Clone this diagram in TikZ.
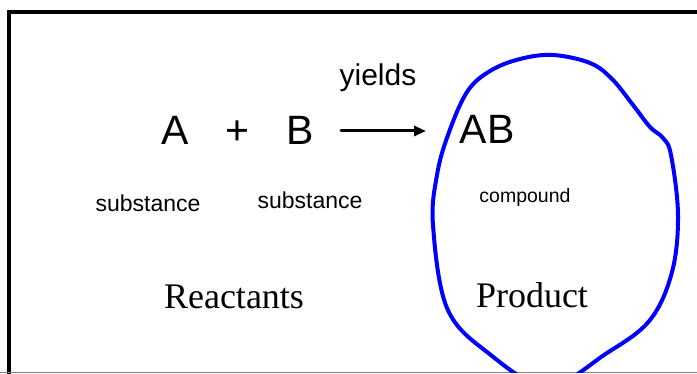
\documentclass[tikz,border=0pt]{standalone}
\usepackage{fontspec}
\setmainfont{Liberation Serif}
\newfontfamily\arialf{Liberation Sans}
\usetikzlibrary{arrows.meta}
\tikzset{
  big/.style={font=\arialf\fontsize{41}{41}\selectfont, inner sep=0pt, anchor=base},
  small/.style={font=\arialf\fontsize{23}{23}\selectfont, inner sep=0pt, anchor=base},
  label serif/.style={font=\fontsize{36}{36}\selectfont, inner sep=0pt, anchor=base},
  frameline/.style={line width=4pt, black},
  bluering/.style={line width=4pt, color={rgb,255:red,0;green,0;blue,255}},
}
\begin{document}
\begin{tikzpicture}[x=1pt, y=-1pt]
\useasboundingbox (0,0) rectangle (697,374);
\fill[white] (0,0) rectangle (697,374);
% frame
\draw[frameline] (8.5,374) -- (8.5,12) -- (697,12);
\draw[line width=1pt, gray] (0,372.8) -- (697,372.8);
% texts
\node[big] (A) at (175,145) {A};
\node[big] (plus) at (237,145) {+};
\node[big] (B) at (300,145) {B};
\node[big] (AB) at (487,144) {AB};
\node[font=\arialf\fontsize{30}{30}\selectfont, inner sep=0pt, anchor=base] (yields) at (378,86) {yields};
\coordinate (arrS) at (341,131);
\coordinate (arrE) at (426,131);
\draw[line width=3pt, line cap=round, -{Triangle[length=12pt,width=10pt]}] (arrS) -- (arrE);
\node[small] (s1) at (148,212) {substance};
\node[small] (s2) at (310,209) {substance};
\node[font=\arialf\fontsize{19.5}{19.5}\selectfont, inner sep=0pt, anchor=base] (cmp) at (525,203) {compound};
\node[label serif] (react) at (234,309) {Reactants};
\node[label serif] (prod) at (532,308) {Product};
% blue ring
\begin{scope}
\clip (0,0) rectangle (697,372.3);
\draw[bluering] plot[smooth cycle, tension=0.6] coordinates {
 (433,225) (437,175) (448,135) (467,92) (490,71) (520,59) (553,55)
 (590,63) (612,79) (633,105) (650,127) (663,138) (671,155)
 (678,215) (672,272) (650,320) (607,353) (547,386)
 (487,352) (447,308)};
\end{scope}
\end{tikzpicture}
\end{document}
